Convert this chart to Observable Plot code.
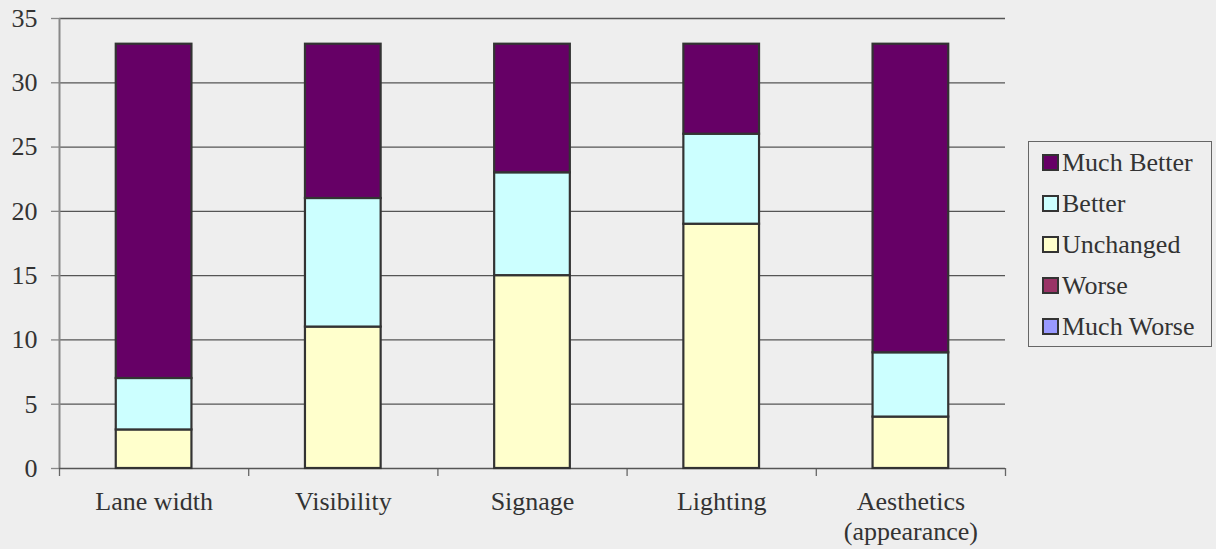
<!DOCTYPE html>
<html>
<head>
<meta charset="utf-8">
<script src="https://cdn.jsdelivr.net/npm/d3@7"></script>
<script src="https://cdn.jsdelivr.net/npm/@observablehq/plot@0.6"></script>
<style>
  html, body { margin: 0; padding: 0; background: #eeeeee; }
  #wrap { position: relative; width: 1216px; height: 549px; font-family: "Liberation Serif", Tinos, "Times New Roman", Times, "Nimbus Roman", "Nimbus Roman No9 L", FreeSerif, "Noto Serif", "DejaVu Serif", "Noto Serif CJK SC", serif; }
  #legend { position: absolute; left: 1028px; top: 141px; width: 184px; height: 206px; border: 1px solid #666; box-sizing: border-box; padding: 0 0 0 13px; background: #eeeeee; }
  .item { display: flex; align-items: center; height: 41px; font-size: 26px; color: #333; }
  .sw { width: 13px; height: 13px; border: 2px solid #333; margin-right: 3px; }
</style>
</head>
<body>
<div id="wrap"></div>
<script>
const categories = ["Lane width", "Visibility", "Signage", "Lighting", "Aesthetics\n(appearance)"];
const seriesNames = ["Much Worse", "Worse", "Unchanged", "Better", "Much Better"];
const seriesColors = ["#9999ff", "#993366", "#ffffcc", "#ccffff", "#660066"];
const muchWorse = [0, 0, 0, 0, 0];
const worse = [0, 0, 0, 0, 0];
const unchanged = [3, 11, 15, 19, 4];
const better = [4, 10, 8, 7, 5];
const muchBetter = [26, 12, 10, 7, 24];
const yTicks = [0, 5, 10, 15, 20, 25, 30, 35];

const seriesValues = [muchWorse, worse, unchanged, better, muchBetter];
const rows = [];
categories.forEach((c, i) => {
  seriesNames.forEach((s, k) => {
    rows.push({i, category: c, series: s, value: seriesValues[k][i]});
  });
});

const serif = "'Liberation Serif', Tinos, 'Times New Roman', Times, 'Nimbus Roman', 'Nimbus Roman No9 L', FreeSerif, 'Noto Serif', 'DejaVu Serif', 'Noto Serif CJK SC', serif";

const chart = Plot.plot({
  width: 1216,
  height: 549,
  marginLeft: 59,
  marginRight: 211,
  marginTop: 18,
  marginBottom: 81,
  style: {background: "#eeeeee", fontFamily: serif, fontSize: "26px", color: "#333"},
  x: {domain: [0, categories.length]},
  y: {domain: [0, 35]},
  color: {domain: seriesNames, range: seriesColors},
  marks: [
    Plot.ruleY(yTicks.slice(1), {y: d => d, x1: 0, x2: categories.length, stroke: "#555", strokeWidth: 1.3}),
    Plot.axisY({ticks: yTicks, tickSize: 8, tickPadding: 14, stroke: "#888", strokeWidth: 1.3, label: null, fill: "#333", strokeOpacity: 1, fontFamily: serif}),
    Plot.axisX({ticks: d3.range(0, categories.length + 1), tickSize: 8, tickFormat: () => "", stroke: "#666", strokeWidth: 1.3, label: null, strokeOpacity: 1}),
    Plot.axisX({ticks: categories.map((c, i) => i + 0.5), tickSize: 0, tickPadding: 20, tickFormat: d => categories[Math.floor(d)], label: null, fill: "#333", lineHeight: 1.15, fontFamily: serif}),
    Plot.ruleX([0], {y1: 0, y2: 35, stroke: "#888", strokeWidth: 2}),
    Plot.ruleY([0], {x1: 0, x2: categories.length, stroke: "#555", strokeWidth: 1.3}),
    Plot.rectY(rows, Plot.stackY({
      x1: d => d.i + 0.3,
      x2: d => d.i + 0.7,
      y: "value",
      fill: "series",
      order: seriesNames,
      filter: d => d.value > 0,
      stroke: "#333",
      strokeWidth: 2.2
    }))
  ]
});

const wrap = document.getElementById("wrap");
wrap.appendChild(chart);

const legend = document.createElement("div");
legend.id = "legend";
[...seriesNames].reverse().forEach(s => {
  const it = document.createElement("div");
  it.className = "item";
  const sw = document.createElement("span");
  sw.className = "sw";
  sw.style.background = seriesColors[seriesNames.indexOf(s)];
  const t = document.createElement("span");
  t.textContent = s;
  it.appendChild(sw);
  it.appendChild(t);
  legend.appendChild(it);
});
wrap.appendChild(legend);
</script>
</body>
</html>
